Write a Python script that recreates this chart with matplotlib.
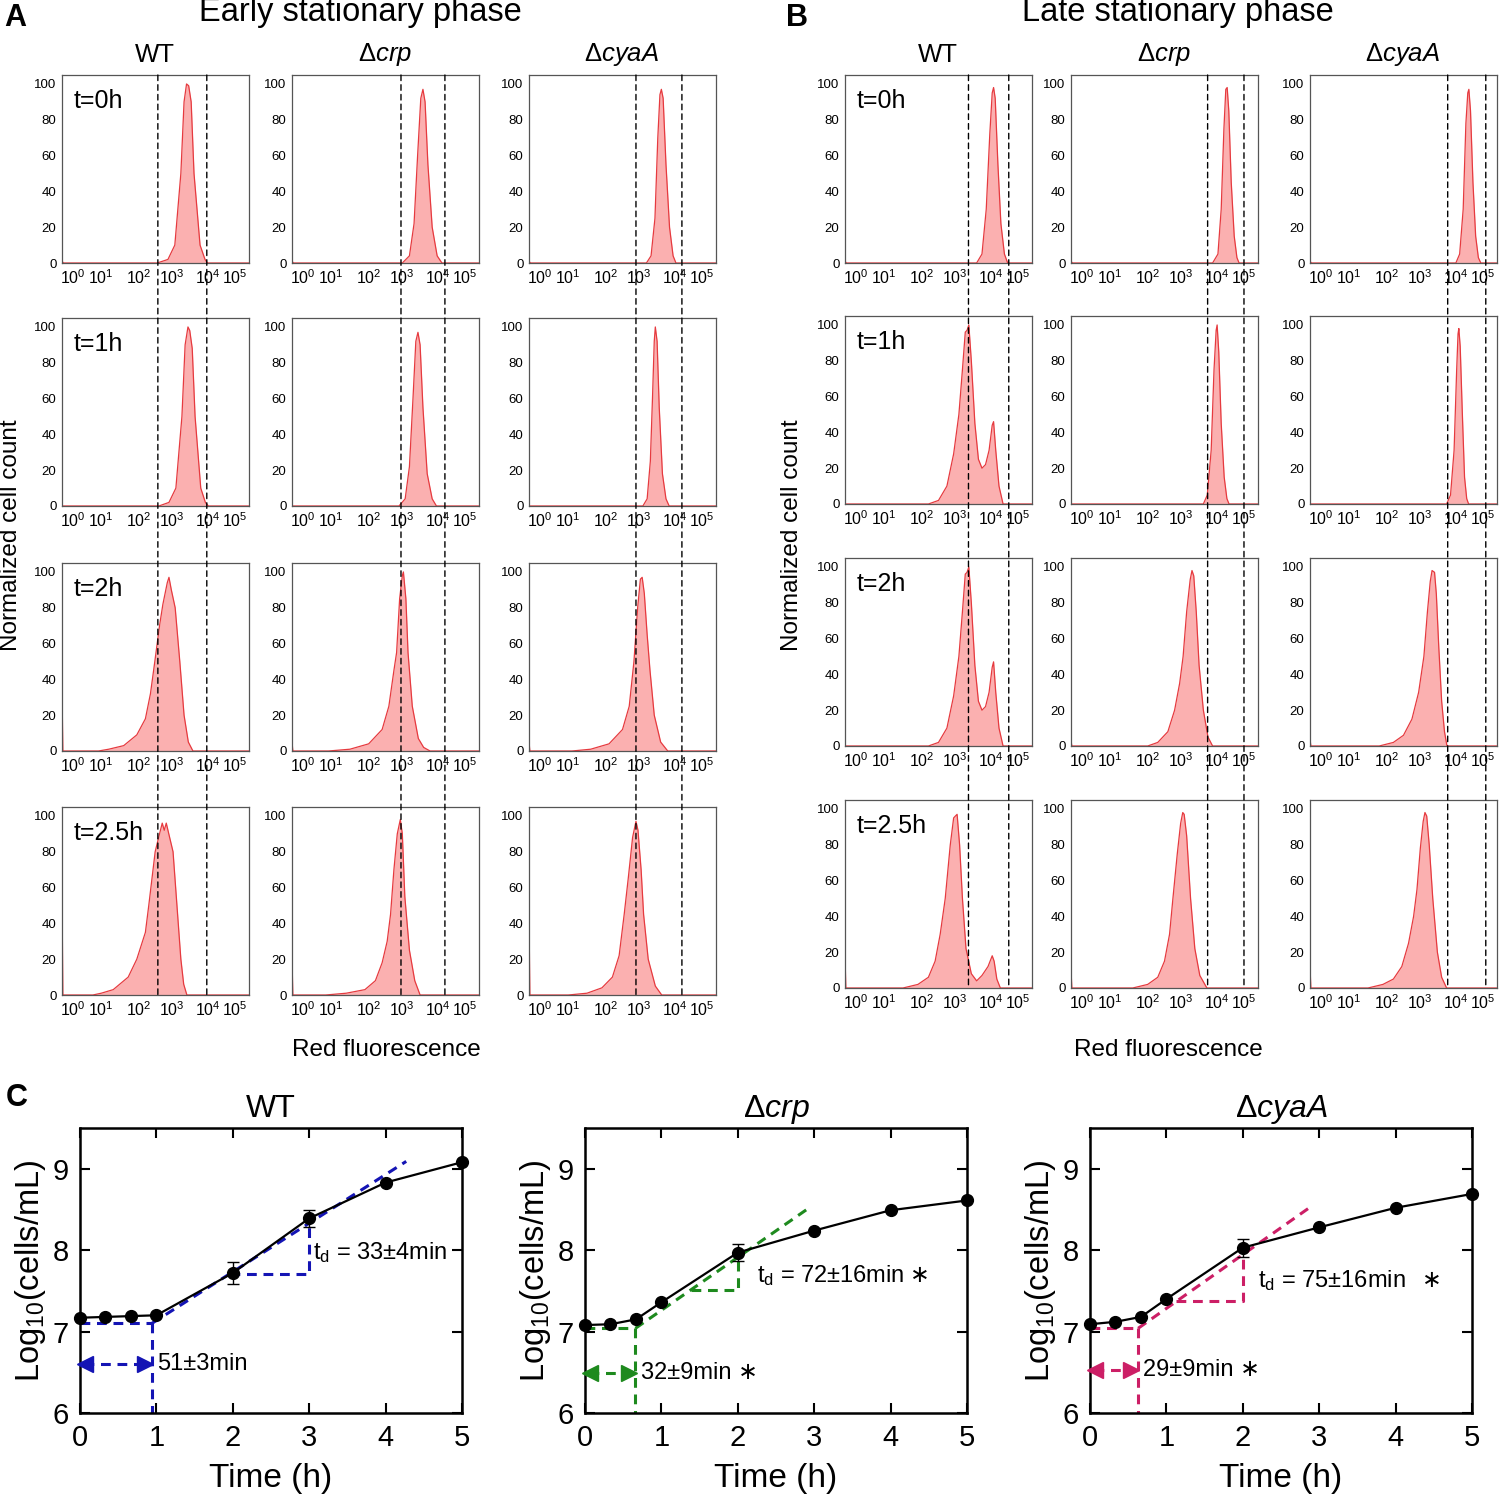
import numpy as np
import matplotlib
matplotlib.use('Agg')
import matplotlib.pyplot as plt
from matplotlib.patches import ConnectionPatch
from matplotlib.ticker import NullLocator

plt.rcParams['font.family'] = ['Liberation Sans', 'DejaVu Sans']
plt.rcParams['mathtext.fontset'] = 'custom'
plt.rcParams['mathtext.rm'] = 'Liberation Sans'
plt.rcParams['mathtext.it'] = 'Liberation Sans:italic'
plt.rcParams['mathtext.bf'] = 'Liberation Sans:bold'

# ---------------- data: flow cytometry (log10 red fluorescence, % of max) ----
TIME_LABELS = ['t=0h', 't=1h', 't=2h', 't=2.5h']
STRAIN_LABELS = ['WT', 'Δ$\\it{crp}$', 'Δ$\\it{cyaA}$']
DECADES = [0, 1, 2, 3, 4, 5]
DECADE_LABELS = ['$10^{%d}$' % d for d in DECADES]

# early stationary phase (A)
A_WT = [
    [(-0.4, 1), (-0.35, 0), (2.55, 0), (2.87, 2), (3.07, 10), (3.24, 50), (3.33, 90), (3.4, 100),
     (3.46, 99), (3.53, 90), (3.61, 50), (3.78, 10), (3.92, 2), (3.99, 0)],
    [(2.6, 0), (2.9, 2), (3.1, 10), (3.27, 50), (3.36, 90), (3.44, 100), (3.49, 98), (3.56, 88),
     (3.64, 50), (3.8, 10), (3.93, 2), (4.02, 0)],
    [(-0.4, 34), (-0.37, 0), (0.9, 0), (1.2, 1), (1.6, 3), (1.95, 9), (2.2, 18), (2.35, 32),
     (2.48, 50), (2.62, 70), (2.72, 82), (2.85, 94), (2.9, 97), (2.97, 90), (3.08, 80), (3.21, 50),
     (3.33, 20), (3.45, 5), (3.58, 0)],
    [(-0.4, 57), (-0.37, 0), (0.7, 0), (1.0, 1), (1.32, 3), (1.72, 10), (1.95, 20), (2.2, 35),
     (2.3, 50), (2.49, 80), (2.62, 90), (2.7, 96), (2.76, 92), (2.82, 96), (2.92, 88), (3.02, 80),
     (3.13, 50), (3.24, 20), (3.32, 6), (3.41, 0)],
]
A_CRP = [
    [(-0.4, 1), (-0.35, 0), (3.0, 0), (3.2, 4), (3.33, 22), (3.43, 60), (3.52, 92), (3.58, 97),
     (3.64, 90), (3.72, 55), (3.84, 20), (3.98, 4), (4.15, 0)],
    [(2.9, 0), (3.08, 4), (3.2, 22), (3.3, 60), (3.38, 92), (3.44, 97), (3.5, 90), (3.58, 55),
     (3.7, 18), (3.84, 4), (3.96, 0)],
    [(-0.4, 5), (-0.37, 0), (0.9, 0), (1.5, 1), (2.0, 4), (2.4, 12), (2.6, 25), (2.75, 45),
     (2.83, 55), (2.92, 85), (3.0, 98), (3.03, 100), (3.1, 85), (3.16, 55), (3.28, 25),
     (3.45, 7), (3.6, 2), (3.78, 0)],
    [(-0.4, 20), (-0.37, 0), (0.8, 0), (1.4, 1), (1.9, 3), (2.2, 8), (2.4, 18), (2.55, 30),
     (2.65, 45), (2.75, 70), (2.85, 90), (2.94, 98), (3.0, 90), (3.07, 55), (3.2, 25),
     (3.35, 8), (3.5, 0)],
]
A_CYA = [
    [(-0.4, 1), (-0.35, 0), (3.2, 0), (3.33, 4), (3.44, 25), (3.52, 70), (3.58, 94), (3.62, 97),
     (3.67, 92), (3.75, 55), (3.85, 20), (3.95, 4), (4.04, 0)],
    [(3.1, 0), (3.22, 4), (3.31, 25), (3.37, 60), (3.42, 92), (3.45, 100), (3.5, 92),
     (3.56, 55), (3.65, 18), (3.75, 4), (3.84, 0)],
    [(-0.4, 5), (-0.37, 0), (1.1, 0), (1.6, 1), (2.1, 4), (2.5, 12), (2.7, 25), (2.84, 50),
     (2.95, 80), (3.03, 96), (3.08, 97), (3.14, 88), (3.22, 65), (3.3, 45), (3.42, 20),
     (3.6, 5), (3.8, 0)],
    [(-0.4, 45), (-0.37, 0), (1.0, 0), (1.5, 1), (1.9, 4), (2.2, 10), (2.4, 22), (2.55, 45),
     (2.67, 65), (2.8, 88), (2.9, 97), (2.96, 92), (3.05, 70), (3.12, 45), (3.25, 20),
     (3.45, 5), (3.63, 0)],
]
# late stationary phase (B)
B_WT = [
    [(-0.4, 1), (-0.35, 0), (3.6, 0), (3.75, 5), (3.87, 30), (3.97, 72), (4.05, 95), (4.1, 98),
     (4.16, 92), (4.26, 55), (4.37, 22), (4.5, 5), (4.62, 0)],
    [(2.2, 0), (2.5, 2), (2.75, 10), (2.95, 28), (3.1, 50), (3.2, 75), (3.28, 96), (3.33, 97),
     (3.38, 100), (3.45, 80), (3.55, 45), (3.65, 25), (3.75, 20), (3.85, 22), (3.95, 30),
     (4.05, 44), (4.1, 46), (4.18, 30), (4.3, 10), (4.45, 0)],
    [(2.2, 0), (2.5, 2), (2.75, 10), (2.95, 28), (3.1, 50), (3.2, 75), (3.28, 96), (3.33, 97),
     (3.38, 100), (3.45, 80), (3.55, 45), (3.65, 25), (3.75, 20), (3.85, 22), (3.95, 30),
     (4.05, 44), (4.1, 47), (4.18, 30), (4.3, 10), (4.45, 0)],
    [(-0.4, 18), (-0.37, 0), (1.5, 0), (1.9, 2), (2.2, 6), (2.4, 15), (2.55, 30), (2.7, 50),
     (2.85, 80), (2.95, 95), (3.0, 96), (3.05, 97), (3.12, 80), (3.2, 50), (3.3, 22), (3.45, 8),
     (3.6, 4), (3.75, 7), (3.92, 12), (4.05, 18), (4.12, 15), (4.22, 5), (4.35, 0)],
]
B_CRP = [
    [(-0.4, 1), (-0.35, 0), (3.88, 0), (4.04, 5), (4.16, 30), (4.26, 75), (4.33, 97), (4.38, 98),
     (4.44, 85), (4.53, 45), (4.64, 15), (4.74, 3), (4.82, 0)],
    [(3.62, 0), (3.73, 5), (3.84, 30), (3.92, 75), (3.98, 97), (4.01, 100), (4.07, 85),
     (4.16, 45), (4.27, 15), (4.37, 3), (4.45, 0)],
    [(-0.4, 3), (-0.37, 0), (2.0, 0), (2.3, 2), (2.6, 8), (2.8, 20), (2.95, 35), (3.05, 50),
     (3.15, 75), (3.25, 93), (3.3, 98), (3.35, 95), (3.42, 75), (3.5, 45), (3.62, 20),
     (3.75, 5), (3.88, 0)],
    [(-0.4, 10), (-0.37, 0), (1.6, 0), (2.0, 2), (2.3, 6), (2.5, 15), (2.65, 30), (2.75, 50),
     (2.88, 75), (2.98, 92), (3.04, 98), (3.08, 97), (3.15, 85), (3.26, 50), (3.38, 22),
     (3.52, 7), (3.72, 0)],
]
B_CYA = [
    [(-0.4, 1), (-0.35, 0), (4.0, 0), (4.14, 5), (4.27, 30), (4.37, 78), (4.44, 95), (4.48, 97),
     (4.54, 85), (4.63, 45), (4.73, 15), (4.83, 3), (4.92, 0)],
    [(3.74, 0), (3.85, 5), (3.95, 30), (4.03, 75), (4.08, 95), (4.11, 98), (4.16, 88),
     (4.24, 50), (4.32, 15), (4.4, 3), (4.47, 0)],
    [(-0.4, 4), (-0.37, 0), (1.8, 0), (2.2, 2), (2.5, 6), (2.75, 15), (2.95, 30), (3.1, 50),
     (3.2, 75), (3.28, 92), (3.33, 98), (3.4, 97), (3.45, 85), (3.52, 55), (3.6, 25),
     (3.68, 8), (3.75, 0)],
    [(-0.4, 12), (-0.37, 0), (1.5, 0), (1.9, 2), (2.2, 5), (2.45, 12), (2.65, 25), (2.8, 40),
     (2.9, 55), (3.0, 78), (3.08, 93), (3.13, 98), (3.18, 96), (3.25, 80), (3.35, 50),
     (3.48, 20), (3.6, 6), (3.74, 0)],
]
# gates (log10 fluorescence) per column
A_GATES = [(2.57, 3.97), (2.96, 4.26), (2.9, 4.26)]
B_GATES = [(3.37, 4.66), (3.74, 5.0), (3.77, 5.07)]

# ---------------- data: growth curves (C) ----------------
TIME_H = [0, 1 / 3, 2 / 3, 1, 2, 3, 4, 5]
WT_LOG = [7.17, 7.18, 7.19, 7.20, 7.72, 8.39, 8.83, 9.08]
WT_ERR = [0, 0, 0, 0, 0.13, 0.10, 0, 0]
CRP_LOG = [7.08, 7.09, 7.15, 7.36, 7.97, 8.24, 8.49, 8.61]
CRP_ERR = [0, 0, 0, 0, 0.10, 0, 0, 0]
CYA_LOG = [7.09, 7.12, 7.18, 7.40, 8.03, 8.28, 8.52, 8.69]
CYA_ERR = [0, 0, 0, 0, 0.11, 0, 0, 0]

LAG_END = [0.94, 0.66, 0.63]
LAG_LEVEL = [7.10, 7.04, 7.04]
FIT_END = [(4.27, 9.09), (2.95, 8.53), (2.90, 8.54)]
TRI_X1 = [3.0, 2.0, 2.0]
TRI_Y = [7.71, 7.51, 7.37]
ARROW_Y = [6.60, 6.49, 6.53]
LAG_TEXT = ['51±3min', '32±9min ∗', '29±9min ∗']
TD_TEXT = ['t$_{\\rm d}$ = 33±4min', 't$_{\\rm d}$ = 72±16min', 't$_{\\rm d}$ = 75±16min']
TD_STAR_GAP = [None, 4, 12]   # significance mark after the doubling time (points)
TD_POS = [(3.05, 7.97), (2.25, 7.69), (2.2, 7.63)]
FIT_COLORS = ['#1414b4', '#1e8a1e', '#cc1f66']
C_TITLES = ['WT', 'Δ$\\it{crp}$', 'Δ$\\it{cyaA}$']

# ---------------- figure ----------------
W, H = 1500, 1496
fig = plt.figure(figsize=(W / 100, H / 100), dpi=100)


def px_axes(left, top, width, height):
    return fig.add_axes([left / W, 1 - (top + height) / H, width / W, height / H])


# nonuniform decade axis of the cytometer plots
DEC_KNOTS = [-0.4, 0, 1, 2, 3, 4, 5, 5.35]
POS_KNOTS = [0, 0.06, 0.21, 0.41, 0.59, 0.78, 0.925, 1.0]


def fwd(x):
    return np.interp(x, DEC_KNOTS, POS_KNOTS)


def inv(p):
    return np.interp(p, POS_KNOTS, DEC_KNOTS)


FILL = '#fbb0b0'
EDGE = '#e63a3f'
NARROW = ['Liberation Sans Narrow', 'Liberation Sans', 'DejaVu Sans']


def hist_panel(ax, pts):
    xs = [DEC_KNOTS[0]] + [p[0] for p in pts] + [DEC_KNOTS[-1]]
    ys = [0] + [p[1] for p in pts] + [0]
    ax.set_xscale('function', functions=(fwd, inv))
    ax.fill_between(xs, ys, 0, color=FILL, lw=0, zorder=1)
    ax.plot(xs, ys, color=EDGE, lw=0.9, zorder=2)
    ax.set_xlim(DEC_KNOTS[0], DEC_KNOTS[-1])
    ax.set_ylim(0, 105)
    ax.set_xticks(DECADES)
    ax.set_xticklabels(DECADE_LABELS, fontsize=11.5)
    ax.xaxis.set_minor_locator(NullLocator())
    ax.set_yticks([0, 20, 40, 60, 80, 100])
    ax.set_yticklabels(['0', '20', '40', '60', '80', '100'], fontsize=9.5, family=NARROW)
    ax.tick_params(length=0, pad=4)
    ax.tick_params(axis='x', pad=4)
    for s in ax.spines.values():
        s.set_color('#555555')
        s.set_linewidth(0.9)


def cyto_block(col_lefts, row_tops, data, gates, title, title_x, label_x, xlab_x):
    axes = []
    for r, top in enumerate(row_tops):
        row = []
        for c, left in enumerate(col_lefts):
            ax = px_axes(left, top, 187, 188)
            hist_panel(ax, data[c][r])
            if c == 0:
                ax.text(0.06, 0.86, TIME_LABELS[r], transform=ax.transAxes, fontsize=18,
                        ha='left', va='center')
            row.append(ax)
        axes.append(row)
    for c, left in enumerate(col_lefts):
        fig.text((left + 93) / W, 1 - 55 / H, STRAIN_LABELS[c], fontsize=18.5,
                 ha='center', va='center')
        for g in gates[c]:
            con = ConnectionPatch(xyA=(g, 105), coordsA='data', axesA=axes[0][c],
                                  xyB=(g, 0), coordsB='data', axesB=axes[-1][c],
                                  color='k', lw=1.0, linestyle=(0, (4, 3)), zorder=5)
            fig.add_artist(con)
    fig.text(title_x / W, 1 - 13 / H, title, fontsize=23.5, ha='center', va='center')
    fig.text(label_x / W, 1 - 535 / H, 'Normalized cell count', fontsize=17.5,
             rotation=90, ha='center', va='center')
    fig.text(xlab_x / W, 1 - 1050 / H, 'Red fluorescence', fontsize=17.5,
             ha='center', va='center')


cyto_block([62, 292, 529], [75, 318, 563, 807], [A_WT, A_CRP, A_CYA], A_GATES,
           'Early stationary phase', 360, 11, 386)
cyto_block([845, 1071, 1310], [75, 316, 558, 800], [B_WT, B_CRP, B_CYA], B_GATES,
           'Late stationary phase', 1178, 792, 1168)

fig.text(4 / W, 1 - 18 / H, 'A', fontsize=22, fontweight='bold', ha='left', va='center')
fig.text(786 / W, 1 - 18 / H, 'B', fontsize=22, fontweight='bold', ha='left', va='center')
fig.text(6 / W, 1 - 1098 / H, 'C', fontsize=22, fontweight='bold', ha='left', va='center')

# ---------------- growth curves ----------------
growth = [(WT_LOG, WT_ERR), (CRP_LOG, CRP_ERR), (CYA_LOG, CYA_ERR)]
c_lefts = [80, 585, 1090]

for i, (vals, errs) in enumerate(growth):
    ax = px_axes(c_lefts[i], 1128, 382, 285)
    col = FIT_COLORS[i]
    dash = dict(color=col, lw=2.2, linestyle=(0, (3.2, 2.2)), zorder=2)
    lag, lvl = LAG_END[i], LAG_LEVEL[i]
    fx, fy = FIT_END[i]
    slope = (fy - lvl) / (fx - lag)
    ax.plot([0, lag], [lvl, lvl], **dash)
    ax.plot([lag, lag], [lvl, 6.0], **dash)
    ax.plot([lag, fx], [lvl, fy], **dash)
    x0 = lag + (TRI_Y[i] - lvl) / slope
    y1 = lvl + slope * (TRI_X1[i] - lag)
    ax.plot([x0, TRI_X1[i], TRI_X1[i]], [TRI_Y[i], TRI_Y[i], y1], **dash)
    ay = ARROW_Y[i]
    ax.plot([0.05, lag - 0.08], [ay, ay], **dash)
    ax.plot([0.07], [ay], marker='<', ms=12, color=col, clip_on=False, zorder=3)
    ax.plot([lag - 0.09], [ay], marker='>', ms=12, color=col, clip_on=False, zorder=3)

    eb = ax.errorbar(TIME_H, vals, yerr=errs, color='k', marker='o', ms=8.5, lw=1.6,
                     capsize=4, elinewidth=1.0, capthick=1.0, zorder=4)
    for art in eb.get_children():
        art.set_clip_on(False)

    ax.text(lag + 0.07, ay, LAG_TEXT[i], fontsize=17, ha='left', va='center')
    td = ax.text(TD_POS[i][0], TD_POS[i][1], TD_TEXT[i], fontsize=17,
                 ha='left', va='center')
    if TD_STAR_GAP[i] is not None:
        ax.annotate('∗', xy=(1, 0.5), xycoords=td, xytext=(TD_STAR_GAP[i], 0),
                    textcoords='offset points', fontsize=17, ha='left', va='center',
                    family=['DejaVu Sans'])

    ax.set_xlim(0, 5)
    ax.set_ylim(6, 9.5)
    ax.set_xticks([0, 1, 2, 3, 4, 5])
    ax.set_yticks([6, 7, 8, 9])
    ax.tick_params(direction='in', length=7, width=1.5, top=True, right=True,
                   labelsize=21, pad=8)
    for s in ax.spines.values():
        s.set_linewidth(1.8)
    ax.set_title(C_TITLES[i], fontsize=23, pad=8)
    ax.set_xlabel('Time (h)', fontsize=24, labelpad=8)
    ax.set_ylabel('Log$_{10}$(cells/mL)', fontsize=23.5, labelpad=3)

fig.savefig('out.png', dpi=100)
